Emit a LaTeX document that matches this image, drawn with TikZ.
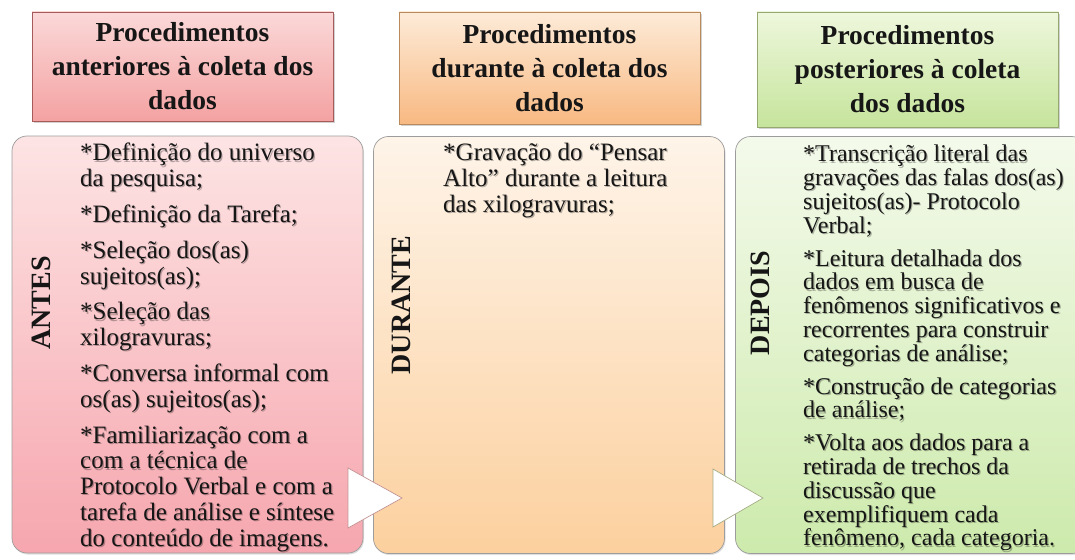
\documentclass[tikz,border=0pt]{standalone}
\usepackage{fontspec}
\setmainfont{Liberation Serif}
\usetikzlibrary{shadows}
\definecolor{txt}{HTML}{161616}
\definecolor{hAt}{HTML}{FBD8D8}
\definecolor{hAb}{HTML}{F4A2A2}
\definecolor{hAd}{HTML}{A65A5A}
\definecolor{hBt}{HTML}{FDEBD8}
\definecolor{hBb}{HTML}{F8B982}
\definecolor{hBd}{HTML}{B98A5C}
\definecolor{hCt}{HTML}{EEF7DC}
\definecolor{hCb}{HTML}{C6E49C}
\definecolor{hCd}{HTML}{94A870}
\definecolor{bAt}{HTML}{FDE4E4}
\definecolor{bAb}{HTML}{F6A6AE}
\definecolor{bBt}{HTML}{FEF4E9}
\definecolor{bBb}{HTML}{FCD09E}
\definecolor{bCt}{HTML}{F4FAEB}
\definecolor{bCb}{HTML}{CDEAAC}
\definecolor{bord}{HTML}{9C9C9C}
\definecolor{arA}{HTML}{C49494}
\definecolor{arB}{HTML}{A5AE85}
\newcommand{\txtA}{*Definição do universo\\da pesquisa;\\[10pt]
  *Definição da Tarefa;\\[10pt]
  *Seleção dos(as)\\sujeitos(as);\\[10pt]
  *Seleção das\\xilogravuras;\\[10pt]
  *Conversa informal com\\os(as) sujeitos(as);\\[10pt]
  *Familiarização com a\\com a técnica de\\Protocolo Verbal e com a\\tarefa de análise e síntese\\do conteúdo de imagens.}
\newcommand{\txtB}{*Gravação do “Pensar\\Alto” durante a leitura\\das xilogravuras;}
\newcommand{\txtC}{*Transcrição literal das\\gravações das falas dos(as)\\sujeitos(as)- Protocolo\\Verbal;\\[9pt]
  *Leitura detalhada dos\\dados em busca de\\fenômenos significativos e\\recorrentes para construir\\categorias de análise;\\[9pt]
  *Construção de categorias\\de análise;\\[9pt]
  *Volta aos dados para a\\retirada de trechos da\\discussão que\\exemplifiquem cada\\fenômeno, cada categoria.}
\begin{document}
\begin{tikzpicture}[x=1pt,y=-1pt,
  hdr/.style={draw=#1, line width=0.7pt, minimum width=301pt,
    inner sep=0pt, align=center, text=txt,
    font=\fontsize{27.5}{34}\selectfont\bfseries,
    drop shadow={opacity=0.35, shadow xshift=1.5pt, shadow yshift=-2pt}},
  bodybox/.style={draw=bord, line width=0.7pt, rounded corners=15pt,
    minimum width=351pt, minimum height=417pt, inner sep=0pt,
    drop shadow={opacity=0.25, shadow xshift=1pt, shadow yshift=-1.5pt}},
  vlabel/.style={rotate=90, text=txt, inner sep=0pt, font=\fontsize{28}{28}\selectfont\bfseries},
  bodytext/.style={anchor=north west, inner sep=0pt, align=left, text=txt},
  textshadow/.style={bodytext, text=black, opacity=0.28},
  arrowtri/.style={fill=white, draw=#1, line width=0.7pt, line join=miter}
]
\useasboundingbox (0,0) rectangle (1075,559);
\clip (0,0) rectangle (1075,559);
\fill[white] (0,0) rectangle (1075,559);

% body boxes
\node[bodybox, top color=bAt, bottom color=bAb] (bA) at (187.5,344.5) {};
\node[bodybox, top color=bBt, bottom color=bBb] (bB) at (549,345) {};
\node[bodybox, top color=bCt, bottom color=bCb] (bC) at (911,345) {};

% headers
\node[hdr=hAd, minimum height=109pt, top color=hAt, bottom color=hAb] (hA) at (182.5,66.5) {Procedimentos\\anteriores à coleta dos\\dados};
\node[hdr=hBd, minimum height=112pt, top color=hBt, bottom color=hBb] (hB) at (549.5,68) {Procedimentos\\durante à coleta dos\\dados};
\node[hdr=hCd, minimum height=115pt, top color=hCt, bottom color=hCb] (hC) at (907.5,69.5) {Procedimentos\\posteriores à coleta\\dos dados};

% vertical labels
\node[vlabel] (lA) at (41,303) {ANTES};
\node[vlabel] (lB) at (401,305) {DURANTE};
\node[vlabel] (lC) at (760,303) {DEPOIS};

% text shadows
\node[textshadow, font=\fontsize{25}{25.8}\selectfont] (sA) at (81.2,144.2) {\txtA};
\node[textshadow, font=\fontsize{25}{25.8}\selectfont] (sB) at (444.2,144.2) {\txtB};
\node[textshadow, font=\fontsize{24}{23.8}\selectfont] (sC) at (804.2,146.2) {\txtC};
% texts
\node[bodytext, font=\fontsize{25}{25.8}\selectfont] (tA) at (80,143) {\txtA};
\node[bodytext, font=\fontsize{25}{25.8}\selectfont] (tB) at (443,143) {\txtB};
\node[bodytext, font=\fontsize{24}{23.8}\selectfont] (tC) at (803,145) {\txtC};

% arrows
\draw[arrowtri=arA] (348,468) -- (402,498) -- (348,528) -- cycle;
\draw[arrowtri=arB] (713,469) -- (763,498) -- (713,527) -- cycle;
\end{tikzpicture}
\end{document}
